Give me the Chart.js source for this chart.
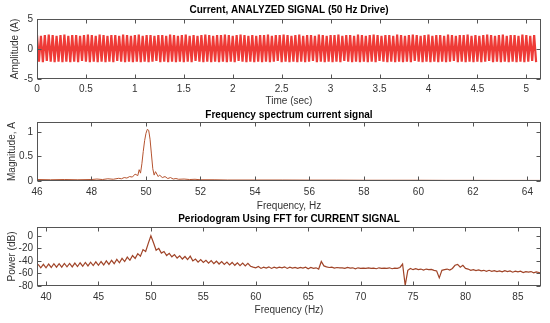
<!DOCTYPE html>
<html>
<head>
<meta charset="utf-8">
<script src="https://cdn.jsdelivr.net/npm/chart.js@4.4.1/dist/chart.umd.min.js"></script>
<style>
  html, body { margin: 0; padding: 0; background: #fff; }
  canvas { display: block; }
</style>
</head>
<body>
<canvas id="signalChart" width="550" height="108"></canvas>
<canvas id="spectrumChart" width="550" height="104"></canvas>
<canvas id="periodogramChart" width="550" height="111"></canvas>
<script>
// ---- data ----
// current signal: peaks/troughs sampled every 0.02 s from t = 0
const signalStart = 0;
const signalStep = 0.02;
const signalAmp = [
  2.3,-2.1,2.2,-2.2,2.3,-2.0,2.4,-2.1,2.3,-2.2,2.2,-2.1,2.3,-2.2,2.4,-2.1,
  2.2,-2.2,2.3,-2.1,2.3,-2.2,2.2,-2.0,2.3,-2.1,2.4,-2.2,2.3,-2.1,2.2,-2.2,
  2.4,-2.1,2.3,-2.2,2.2,-2.1,2.3,-2.2,2.3,-2.0,2.2,-2.1,2.4,-2.2,2.3,-2.1,
  2.2,-2.2,2.3,-2.1,2.4,-2.2,2.2,-2.1,2.3,-2.2,2.3,-2.1,2.2,-2.0,2.3,-2.2,
  2.3,-2.1,2.2,-2.2,2.4,-2.1,2.3,-2.2,2.2,-2.1,2.3,-2.2,2.4,-2.1,2.2,-2.2,
  2.3,-2.0,2.2,-2.1,2.3,-2.2,2.4,-2.1,2.3,-2.2,2.2,-2.1,2.3,-2.2,2.3,-2.1,
  2.4,-2.2,2.3,-2.1,2.2,-2.2,2.3,-2.0,2.4,-2.1,2.3,-2.2,2.2,-2.1,2.3,-2.2,
  2.2,-2.1,2.3,-2.2,2.3,-2.1,2.4,-2.2,2.2,-2.1,2.3,-2.0,2.3,-2.2,2.4,-2.1,
  2.3,-2.2,2.2,-2.1,2.3,-2.2,2.4,-2.1,2.2,-2.2,2.3,-2.1,2.3,-2.0,2.2,-2.2,
  2.4,-2.1,2.3,-2.2,2.2,-2.1,2.3,-2.2,2.3,-2.1,2.4,-2.2,2.2,-2.0,2.3,-2.1,
  2.3,-2.2,2.2,-2.1,2.4,-2.2,2.3,-2.1,2.2,-2.2,2.3,-2.1,2.4,-2.2,2.3,-2.0,
  2.2,-2.1,2.3,-2.2,2.3,-2.1,2.2,-2.2,2.4,-2.1,2.3,-2.2,2.2,-2.1,2.3,-2.2,
  2.4,-2.0,2.3,-2.1,2.2,-2.2,2.3,-2.1,2.4,-2.2,2.2,-2.1,2.3,-2.2,2.3,-2.1,
  2.2,-2.2,2.4,-2.1,2.3,-2.0,2.2,-2.2,2.3,-2.1,2.3,-2.2,2.4,-2.1,2.2,-2.2,
  2.3,-2.1,2.2,-2.2,2.3,-2.1,2.4,-2.0,2.3,-2.2,2.2,-2.1,2.3,-2.2,2.4,-2.1,
  2.2,-2.2,2.3,-2.1,2.3,-2.2,2.2,-2.1,2.4,-2.2,2.3,-2.1,2.2,-2.0,2.3,-2.2
];
const timeTicks = [0, 0.5, 1, 1.5, 2, 2.5, 3, 3.5, 4, 4.5, 5];
const ampTicks = [-5, 0, 5];

// frequency spectrum (magnitude, A)
const specFreq = [
  46, 46.5, 47, 47.5, 48, 48.2, 48.4, 48.6, 48.8, 49.0, 49.1, 49.2, 49.3, 49.4,
  49.5, 49.6, 49.7, 49.75, 49.8, 49.85, 49.9, 49.95, 50.0, 50.05, 50.1, 50.15,
  50.2, 50.25, 50.3, 50.35, 50.4, 50.45, 50.5, 50.6, 50.7, 50.8, 50.9, 51.0,
  51.1, 51.2, 51.4, 51.6, 51.8, 52, 52.5, 53, 54, 55, 56, 57, 58, 59, 60, 61,
  62, 63, 64, 64.5
];
const specMag = [
  0.03, 0.025, 0.03, 0.025, 0.03, 0.04, 0.03, 0.045, 0.035, 0.055, 0.045, 0.07, 0.06, 0.09,
  0.08, 0.14, 0.11, 0.23, 0.16, 0.35, 0.6, 0.82, 0.97, 1.05, 1.03, 0.85,
  0.55, 0.25, 0.12, 0.19, 0.14, 0.09, 0.12, 0.07, 0.09, 0.05, 0.07, 0.04,
  0.05, 0.035, 0.04, 0.03, 0.035, 0.025, 0.025, 0.02, 0.02, 0.02, 0.018, 0.018, 0.015, 0.015, 0.015, 0.013,
  0.013, 0.012, 0.012, 0.012
];
const specFreqTicks = [46, 48, 50, 52, 54, 56, 58, 60, 62, 64];
const magTicks = [0, 0.5, 1];

// periodogram (power, dB) in 0.25 Hz bins from 39.25 Hz
const pgStart = 39.25;
const pgStep = 0.25;
const pgPower = [
  -45.5, -51, -45.5, -51,
  -45, -50.5, -44.5, -50,
  -44.5, -50, -44, -49.5,
  -44, -49.5, -43.5, -49,
  -43, -48.5, -42.5, -48,
  -42, -47.5, -41.5, -47,
  -41, -46.5, -40, -45.5,
  -39, -44.5, -37.5, -43,
  -36, -41, -34, -39,
  -31.5, -36, -28.5, -32.5,
  -22, -25, -12, 0,
  -11, -23, -20, -27.5,
  -25, -31.5, -28, -33.5,
  -30, -35.5, -32, -37,
  -33, -38, -32.5, -40,
  -37, -42, -38, -42.5,
  -39, -43.5, -39.5, -44.5,
  -40.5, -45, -41, -45.5,
  -42, -46.5, -42.5, -47,
  -43, -47.5, -43.5, -48,
  -44, -48.5, -50, -51,
  -49, -52, -50, -51.5,
  -49.5, -52, -50, -51.5,
  -50, -51, -49.5, -52,
  -50, -51.5, -50.5, -52,
  -50.5, -51.5, -50, -52.5,
  -50.5, -52, -51, -53,
  -41, -48, -49.5, -50.5,
  -50, -51.5, -50.5, -51,
  -51, -52, -50.5, -51.5,
  -51, -52.5, -51, -52,
  -51.5, -52, -51, -52,
  -51.5, -52.5, -51, -52,
  -51.5, -52, -51, -52.5,
  -51.5, -52, -50.5, -45,
  -79, -55, -52, -54,
  -52.5, -54, -53, -54.5,
  -53, -54, -53.5, -55,
  -56, -67, -55, -54,
  -53, -54.5, -52, -47,
  -45.5, -50, -47, -52,
  -53, -55, -54, -55.5,
  -54.5, -56, -55, -56.5,
  -55, -56.5, -55.5, -57,
  -56, -57.5, -55.5, -57,
  -56, -58, -56.5, -57.5,
  -56.5, -58.5, -57, -58,
  -57, -59, -57.5, -58.5,
  -59.5
];
const pgFreqTicks = [40, 45, 50, 55, 60, 65, 70, 75, 80, 85];
const powerTicks = [-80, -60, -40, -20, 0];

// ---- helpers ----
const FONT = "'Liberation Sans', Arial, sans-serif";
const AXIS_COLOR = '#555555';
const TEXT_COLOR = '#333333';

// box around the plot with MATLAB-style inward ticks
const boxTicks = {
  id: 'boxTicks',
  afterDraw(chart) {
    const { ctx, chartArea: a, scales: { x, y } } = chart;
    const L = Math.round(a.left) + 0.5, R = Math.round(a.right) - 0.5;
    const T = Math.round(a.top) + 0.5, B = Math.round(a.bottom) - 0.5;
    ctx.save();
    ctx.strokeStyle = AXIS_COLOR;
    ctx.lineWidth = 1;
    ctx.strokeRect(L, T, R - L, B - T);
    ctx.beginPath();
    x.ticks.forEach(t => {
      const px = Math.round(x.getPixelForValue(t.value)) + 0.5;
      ctx.moveTo(px, B); ctx.lineTo(px, B - 4);
      ctx.moveTo(px, T); ctx.lineTo(px, T + 4);
    });
    y.ticks.forEach(t => {
      const py = Math.round(y.getPixelForValue(t.value)) + 0.5;
      ctx.moveTo(L, py); ctx.lineTo(L + 4, py);
      ctx.moveTo(R, py); ctx.lineTo(R - 4, py);
    });
    ctx.stroke();
    ctx.restore();
  }
};

// bold title centred over the plot area
const panelTitle = {
  id: 'panelTitle',
  afterDraw(chart, args, opts) {
    if (!opts || !opts.text) return;
    const { ctx, chartArea: a } = chart;
    ctx.save();
    ctx.font = 'bold 10px ' + FONT;
    ctx.fillStyle = '#000';
    ctx.textAlign = 'center';
    ctx.textBaseline = 'middle';
    ctx.fillText(opts.text, (a.left + a.right) / 2, opts.y);
    ctx.restore();
  }
};

function makePanel(id, cfg) {
  const tickFont = { family: FONT, size: 10 };
  return new Chart(document.getElementById(id), {
    type: 'line',
    data: {
      datasets: [{
        data: cfg.points,
        borderColor: cfg.color,
        borderWidth: cfg.width,
        pointRadius: 0,
        fill: false,
        tension: 0
      }]
    },
    options: {
      responsive: false,
      animation: false,
      layout: { padding: { top: cfg.top, right: 9, left: 0, bottom: 0 } },
      plugins: {
        legend: { display: false },
        tooltip: { enabled: false },
        panelTitle: { text: cfg.title, y: cfg.titleY }
      },
      scales: {
        x: {
          type: 'linear',
          min: cfg.xMin, max: cfg.xMax,
          grid: { display: false, drawTicks: false },
          border: { display: false },
          afterBuildTicks: s => { s.ticks = cfg.xTicks.map(v => ({ value: v })); },
          afterFit: s => { s.height = cfg.xHeight; },
          ticks: { font: tickFont, color: TEXT_COLOR, padding: cfg.xTickPad, maxRotation: 0, autoSkip: false, callback: v => String(v) },
          title: { display: true, text: cfg.xLabel, font: tickFont, color: TEXT_COLOR, padding: { top: 0, bottom: cfg.xTitlePad } }
        },
        y: {
          type: 'linear',
          min: cfg.yMin, max: cfg.yMax,
          grid: { display: false, drawTicks: false },
          border: { display: false },
          afterBuildTicks: s => { s.ticks = cfg.yTicks.map(v => ({ value: v })); },
          afterFit: s => { s.width = 37; },
          ticks: { font: tickFont, color: TEXT_COLOR, padding: 4, autoSkip: false, callback: v => String(v) },
          title: { display: true, text: cfg.yLabel, font: tickFont, color: TEXT_COLOR, padding: { top: cfg.yTitlePad, bottom: 0 } }
        }
      }
    },
    plugins: [boxTicks, panelTitle]
  });
}

// 1. current signal in time
makePanel('signalChart', {
  points: signalAmp.map((v, i) => ({ x: signalStart + i * signalStep, y: v })),
  color: '#ee3b37', width: 2.2,
  title: 'Current, ANALYZED SIGNAL (50 Hz Drive)', titleY: 10,
  top: 19, xHeight: 29, xTickPad: 4, xTitlePad: 1, yTitlePad: 9,
  xMin: 0, xMax: 5.15, xTicks: timeTicks, xLabel: 'Time (sec)',
  yMin: -5, yMax: 5, yTicks: ampTicks, yLabel: 'Amplitude (A)'
});

// 2. frequency spectrum
makePanel('spectrumChart', {
  points: specFreq.map((f, i) => ({ x: f, y: specMag[i] })),
  color: '#b5532f', width: 1,
  title: 'Frequency spectrum current signal', titleY: 7,
  top: 14, xHeight: 31, xTickPad: 5, xTitlePad: 0, yTitlePad: 6,
  xMin: 46, xMax: 64.5, xTicks: specFreqTicks, xLabel: 'Frequency, Hz',
  yMin: 0, yMax: 1.2, yTicks: magTicks, yLabel: 'Magnitude, A'
});

// 3. periodogram
makePanel('periodogramChart', {
  points: pgPower.map((v, i) => ({ x: pgStart + i * pgStep, y: v })),
  color: '#a04428', width: 1.2,
  title: 'Periodogram Using FFT for CURRENT SIGNAL', titleY: 7.3,
  top: 15, xHeight: 37, xTickPad: 5, xTitlePad: 7, yTitlePad: 6,
  xMin: 39.14, xMax: 87.2, xTicks: pgFreqTicks, xLabel: 'Frequency (Hz)',
  yMin: -80, yMax: 14, yTicks: powerTicks, yLabel: 'Power (dB)'
});
</script>
</body>
</html>
